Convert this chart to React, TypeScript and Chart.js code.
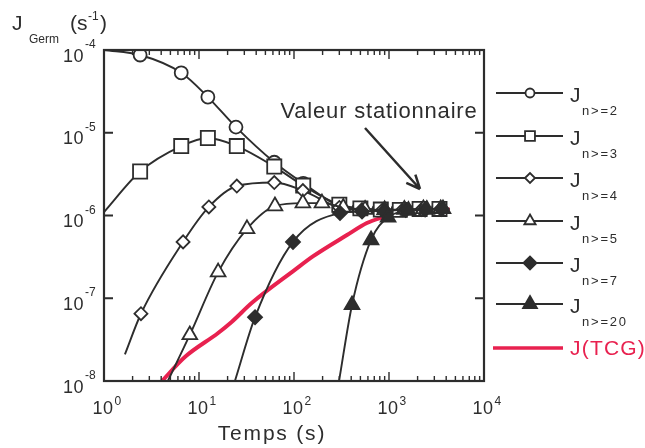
import React, { useEffect, useRef } from 'react';
import { Chart, registerables } from 'chart.js';

Chart.register(...registerables);

// ---- axis / tick data ----
const xDecades = [1, 10, 100, 1000, 10000];
const xExponents = ['0', '1', '2', '3', '4'];
const yDecades = [1e-8, 1e-7, 1e-6, 1e-5, 1e-4];
const yExponents = ['-8', '-7', '-6', '-5', '-4'];
const minorMultipliers = [1, 2, 3, 4, 5, 6, 7, 8, 9];

// ---- series data (t in s, J in s^-1) ----
const tN2 = [1, 2.4, 6.5, 12.4, 24.5, 62, 125, 300, 480, 780, 1250, 2000, 3300];
const jN2 = [1e-4, 8.7e-5, 5.3e-5, 2.7e-5, 1.17e-5, 4.4e-6, 2.45e-6, 1.3e-6, 1.2e-6, 1.17e-6, 1.18e-6, 1.18e-6, 1.2e-6];

const tN3 = [1, 2.4, 6.5, 12.4, 25, 62, 125, 300, 500, 820, 1300, 2100, 3400];
const jN3 = [1.1e-6, 3.4e-6, 6.9e-6, 8.65e-6, 6.9e-6, 3.9e-6, 2.3e-6, 1.35e-6, 1.22e-6, 1.18e-6, 1.17e-6, 1.2e-6, 1.2e-6];

const tN4 = [1.66, 2.45, 6.8, 12.7, 25, 62, 124, 300, 520, 850, 1400, 2200, 3500];
const jN4 = [2.1e-8, 6.5e-8, 4.8e-7, 1.27e-6, 2.27e-6, 2.5e-6, 2.0e-6, 1.25e-6, 1.18e-6, 1.16e-6, 1.18e-6, 1.18e-6, 1.2e-6];

const tN5 = [4.7, 8, 15.9, 32, 63, 124, 197, 330, 560, 900, 1450, 2300, 3500];
const jN5 = [1e-8, 3.6e-8, 2.07e-7, 6.9e-7, 1.3e-6, 1.41e-6, 1.41e-6, 1.25e-6, 1.18e-6, 1.17e-6, 1.18e-6, 1.2e-6, 1.2e-6];

const tN7 = [23.9, 38.9, 97.6, 305, 520, 900, 1500, 2400, 3600];
const jN7 = [1e-8, 5.9e-8, 4.8e-7, 1.07e-6, 1.12e-6, 1.14e-6, 1.17e-6, 1.18e-6, 1.2e-6];

const tN20 = [298, 408, 647, 978, 1600, 2500, 3700];
const jN20 = [1e-8, 8.3e-8, 5.06e-7, 9.5e-7, 1.15e-6, 1.18e-6, 1.2e-6];

const tTCG = [4.08, 7.1, 15.9, 22.2, 36.1, 102, 158, 361, 585, 804, 1200, 2000, 4370];
const jTCG = [1e-8, 1.95e-8, 3.8e-8, 5.2e-8, 8.8e-8, 2.2e-7, 3.2e-7, 5.8e-7, 8.1e-7, 9.3e-7, 1.05e-6, 1.12e-6, 1.18e-6];

const seriesSubs = ['n>=2', 'n>=3', 'n>=4', 'n>=5', 'n>=7', 'n>=20'];
const tcgLabel = 'J(TCG)';
const annotationText = 'Valeur stationnaire';

// ---- styling ----
const DARK = '#2d2d2d';
const RED = '#e8214f';
const FONT = '"Liberation Sans", Arial, Helvetica, sans-serif';

const markerStyles = [
  { t: tN2, j: jN2, style: 'circle', filled: false, r: 6.5, lr: 4.5 },
  { t: tN3, j: jN3, style: 'rect', filled: false, r: 10, lr: 7 },
  { t: tN4, j: jN4, style: 'rectRot', filled: false, r: 6.5, lr: 5 },
  { t: tN5, j: jN5, style: 'triangle', filled: false, r: 8.5, lr: 6.5 },
  { t: tN7, j: jN7, style: 'rectRot', filled: true, r: 7, lr: 6.5 },
  { t: tN20, j: jN20, style: 'triangle', filled: true, r: 8.5, lr: 8 },
];

const isPow10 = (v: number) => Math.abs(Math.log10(v) - Math.round(Math.log10(v))) < 1e-9;

function txt(ctx: CanvasRenderingContext2D, s: string, x: number, y: number, size: number,
  align: CanvasTextAlign = 'left', color = DARK, spacing = 0) {
  ctx.font = `${size}px ${FONT}`;
  (ctx as any).letterSpacing = `${spacing}px`;
  ctx.fillStyle = color;
  ctx.textAlign = align;
  ctx.textBaseline = 'alphabetic';
  ctx.fillText(s, x, y);
}

function drawMarker(ctx: CanvasRenderingContext2D, style: string, r: number, x: number, y: number) {
  ctx.beginPath();
  if (style === 'circle') {
    ctx.arc(x, y, r, 0, Math.PI * 2);
  } else if (style === 'rect') {
    const s = Math.SQRT1_2 * r;
    ctx.rect(x - s, y - s, 2 * s, 2 * s);
  } else if (style === 'rectRot') {
    ctx.moveTo(x - r, y); ctx.lineTo(x, y - r); ctx.lineTo(x + r, y); ctx.lineTo(x, y + r);
    ctx.closePath();
  } else if (style === 'triangle') {
    for (let k = 0; k < 3; k++) {
      const a = k * (2 * Math.PI / 3);
      const px = x + Math.sin(a) * r, py = y - Math.cos(a) * r;
      if (k === 0) ctx.moveTo(px, py); else ctx.lineTo(px, py);
    }
    ctx.closePath();
  }
  ctx.fill();
  ctx.stroke();
}

const decorPlugin = {
  id: 'decor',
  afterDraw(chart: any) {
    const ctx: CanvasRenderingContext2D = chart.ctx;
    const { left, right, top, bottom } = chart.chartArea;
    const xs = chart.scales.x;
    const ys = chart.scales.y;
    ctx.save();
    // frame
    ctx.strokeStyle = DARK;
    ctx.lineWidth = 2.2;
    ctx.strokeRect(left, top, right - left, bottom - top);
    // x ticks (inward, top and bottom)
    ctx.lineWidth = 1.4;
    xs.ticks.forEach((tk: any) => {
      const px = xs.getPixelForValue(tk.value);
      const len = isPow10(tk.value) ? 9 : 5;
      ctx.beginPath();
      ctx.moveTo(px, bottom); ctx.lineTo(px, bottom - len);
      ctx.moveTo(px, top); ctx.lineTo(px, top + len);
      ctx.stroke();
    });
    // y ticks
    ctx.lineWidth = 2;
    ys.ticks.forEach((tk: any) => {
      const py = ys.getPixelForValue(tk.value);
      ctx.beginPath();
      ctx.moveTo(left, py); ctx.lineTo(left + 9, py);
      ctx.moveTo(right, py); ctx.lineTo(right - 9, py);
      ctx.stroke();
    });
    // x tick labels
    xDecades.forEach((d, i) => {
      const px = xs.getPixelForValue(d);
      txt(ctx, '10', px - 1, 414, 18, 'center', DARK, 0.5);
      ctx.font = `18px ${FONT}`;
      const w = ctx.measureText('10').width;
      txt(ctx, xExponents[i], px - 1 + w / 2 + 1, 405, 12, 'left');
    });
    // y tick labels
    yDecades.forEach((d, i) => {
      const py = ys.getPixelForValue(d);
      txt(ctx, '10', 84, py + 11.5, 18, 'right', DARK, 0.5);
      txt(ctx, yExponents[i], 85, py - 2, 12, 'left');
    });
    // axis titles
    txt(ctx, 'Temps (s)', 272, 440, 21, 'center', DARK, 1.8);
    txt(ctx, 'J', 12, 30, 21);
    txt(ctx, 'Germ', 29, 43, 12);
    txt(ctx, '(s', 70, 30, 21);
    txt(ctx, '-1', 88, 20, 12);
    txt(ctx, ')', 100, 30, 21);
    // annotation
    txt(ctx, annotationText, 379, 118, 22, 'center', DARK, 0.8);
    ctx.strokeStyle = DARK;
    ctx.lineWidth = 2.5;
    const ax0 = 365, ay0 = 128, ax1 = 420, ay1 = 189;
    ctx.beginPath();
    ctx.moveTo(ax0, ay0); ctx.lineTo(ax1, ay1);
    const ang = Math.atan2(ay1 - ay0, ax1 - ax0);
    const hl = 15, ha = 0.42;
    ctx.moveTo(ax1, ay1); ctx.lineTo(ax1 - hl * Math.cos(ang - ha), ay1 - hl * Math.sin(ang - ha));
    ctx.moveTo(ax1, ay1); ctx.lineTo(ax1 - hl * Math.cos(ang + ha), ay1 - hl * Math.sin(ang + ha));
    ctx.stroke();
    // legend
    const legendYs = [93, 136, 178, 221, 263, 304];
    markerStyles.forEach((m, i) => {
      const y = legendYs[i];
      ctx.strokeStyle = DARK;
      ctx.lineWidth = 2;
      ctx.beginPath();
      ctx.moveTo(496, y); ctx.lineTo(563, y);
      ctx.stroke();
      ctx.fillStyle = m.filled ? DARK : '#ffffff';
      ctx.strokeStyle = DARK;
      ctx.lineWidth = 1.8;
      drawMarker(ctx, m.style, m.lr, 530, y);
      txt(ctx, 'J', 570, y + 9, 21);
      txt(ctx, seriesSubs[i], 582, y + 22, 13, 'left', DARK, 1.8);
    });
    ctx.strokeStyle = RED;
    ctx.lineWidth = 3.5;
    ctx.beginPath();
    ctx.moveTo(493, 348); ctx.lineTo(563, 348);
    ctx.stroke();
    txt(ctx, tcgLabel, 570, 355, 21, 'left', RED, 1.2);
    ctx.restore();
  },
};

export default function App() {
  const ref = useRef<HTMLCanvasElement>(null);
  useEffect(() => {
    if (!ref.current) return;
    const datasets: any[] = markerStyles.map((m, i) => ({
      label: 'J ' + seriesSubs[i],
      data: m.t.map((t, k) => ({ x: t, y: m.j[k] })),
      order: markerStyles.length - i,
      borderColor: DARK,
      borderWidth: 1.9,
      cubicInterpolationMode: 'monotone',
      pointStyle: m.style,
      pointRadius: (c: any) => (c.dataIndex === 0 ? 0 : m.r),
      pointBorderWidth: 1.8,
      pointBorderColor: DARK,
      pointBackgroundColor: m.filled ? DARK : '#ffffff',
      fill: false,
    }));
    datasets.push({
      label: tcgLabel,
      data: tTCG.map((t, k) => ({ x: t, y: jTCG[k] })),
      order: 20,
      borderColor: RED,
      borderWidth: 4,
      cubicInterpolationMode: 'monotone',
      pointRadius: 0,
      fill: false,
    });
    const chart = new Chart(ref.current, {
      type: 'line',
      data: { datasets },
      options: {
        animation: false,
        responsive: false,
        events: [],
        layout: { padding: { left: 0, top: 50, right: 161, bottom: 0 } },
        plugins: { legend: { display: false }, tooltip: { enabled: false } },
        scales: {
          x: {
            type: 'logarithmic',
            min: 1,
            max: 10000,
            grid: { display: false },
            border: { display: false },
            ticks: { display: false },
            afterBuildTicks: (s: any) => {
              s.ticks = xDecades.flatMap((d, i) =>
                i < xDecades.length - 1 ? minorMultipliers.map((mm) => ({ value: d * mm })) : [{ value: d }]);
            },
            afterFit: (s: any) => { s.height = 67; },
          },
          y: {
            type: 'logarithmic',
            min: 1e-8,
            max: 1e-4,
            grid: { display: false },
            border: { display: false },
            ticks: { display: false },
            afterBuildTicks: (s: any) => { s.ticks = yDecades.map((v) => ({ value: v })); },
            afterFit: (s: any) => { s.width = 104; },
          },
        },
      },
      plugins: [decorPlugin],
    } as any);
    return () => chart.destroy();
  }, []);
  return (
    <div style={{ position: 'fixed', left: 0, top: 0, width: 645, height: 448, background: '#fff' }}>
      <canvas ref={ref} width={645} height={448} />
    </div>
  );
}
